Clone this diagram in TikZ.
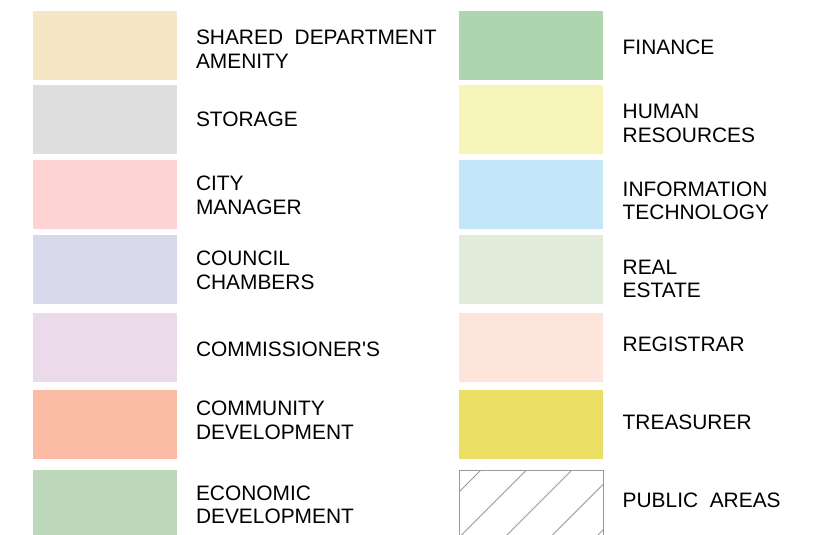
\documentclass[tikz,border=0pt]{standalone}
\usepackage{fontspec}
\setmainfont{Liberation Sans}
\newfontfamily\legfont{Liberation Sans}
\definecolor{cShared}{HTML}{F5E7C5}
\definecolor{cStorage}{HTML}{DEDEDE}
\definecolor{cCity}{HTML}{FDD3D4}
\definecolor{cCouncil}{HTML}{DAD9EB}
\definecolor{cComm}{HTML}{EADAEA}
\definecolor{cCommDev}{HTML}{FBBBA4}
\definecolor{cEcon}{HTML}{BDD8BA}
\definecolor{cFin}{HTML}{ADD6AE}
\definecolor{cHR}{HTML}{F6F4B9}
\definecolor{cIT}{HTML}{C3E7F8}
\definecolor{cReal}{HTML}{E0EBDA}
\definecolor{cReg}{HTML}{FEE5DB}
\definecolor{cTreas}{HTML}{EBDF66}
\definecolor{cHatch}{HTML}{9A9A9A}
\newcommand{\lbltxt}[1]{\begin{tabular}[t]{@{}l@{}}#1\end{tabular}}
\tikzset{
  swatch/.style={rectangle, inner sep=0pt, outer sep=0pt, minimum width=144pt, minimum height=69pt, anchor=north west, draw=none},
  legtext/.style={inner sep=0pt, outer sep=0pt, anchor=base west, font=\legfont\fontsize{20.9}{23.8}\selectfont, text=black}
}
\begin{document}
\begin{tikzpicture}[x=1pt,y=-1pt]
\useasboundingbox (0,0) rectangle (833,535);
\clip (0,0) rectangle (833,535);
% left column swatches
\node[swatch, fill=cShared] (s1) at (33,11) {};
\node[swatch, fill=cStorage] (s2) at (33,85) {};
\node[swatch, fill=cCity] (s3) at (33,160) {};
\node[swatch, fill=cCouncil] (s4) at (33,235) {};
\node[swatch, fill=cComm] (s5) at (33,313) {};
\node[swatch, fill=cCommDev] (s6) at (33,390) {};
\node[swatch, fill=cEcon, minimum height=72pt] (s7) at (33,470) {};
% right column swatches
\node[swatch, fill=cFin] (r1) at (459,11) {};
\node[swatch, fill=cHR] (r2) at (459,85) {};
\node[swatch, fill=cIT] (r3) at (459,160) {};
\node[swatch, fill=cReal] (r4) at (459,235) {};
\node[swatch, fill=cReg] (r5) at (459,313) {};
\node[swatch, fill=cTreas] (r6) at (459,390) {};
\node[swatch, minimum height=72pt, draw=cHatch, line width=1pt] (r7) at (459.5,470) {};
\begin{scope}
  \clip (r7.north west) rectangle (r7.south east);
  \foreach \c in {951,996.5,1042,1087.5,1133}{
    \draw[cHatch, line width=0.8pt] (\c-545,545) -- (\c-465,465);
  }
\end{scope}
% left labels
\node[legtext] (t1) at (196,44.3) {\lbltxt{SHARED\ \ DEPARTMENT\\AMENITY}};
\node[legtext] (t2) at (196,126) {\lbltxt{STORAGE}};
\node[legtext] (t3) at (196,190.7) {\lbltxt{CITY\\MANAGER}};
\node[legtext] (t4) at (196,265.7) {\lbltxt{COUNCIL\\CHAMBERS}};
\node[legtext] (t5) at (196,356) {\lbltxt{COMMISSIONER'S}};
\node[legtext] (t6) at (196,415.3) {\lbltxt{COMMUNITY\\DEVELOPMENT}};
\node[legtext] (t7) at (196,500) {\lbltxt{ECONOMIC\\DEVELOPMENT}};
% right labels
\node[legtext] (u1) at (622.7,54.3) {\lbltxt{FINANCE}};
\node[legtext] (u2) at (622.7,118.3) {\lbltxt{HUMAN\\RESOURCES}};
\node[legtext] (u3) at (622.7,196) {\lbltxt{INFORMATION\\TECHNOLOGY}};
\node[legtext] (u4) at (622.7,274) {\lbltxt{REAL\\ESTATE}};
\node[legtext] (u5) at (622.7,351.7) {\lbltxt{REGISTRAR}};
\node[legtext] (u6) at (622.7,429.3) {\lbltxt{TREASURER}};
\node[legtext] (u7) at (622.7,507.3) {\lbltxt{PUBLIC\ \ AREAS}};
\end{tikzpicture}
\end{document}
